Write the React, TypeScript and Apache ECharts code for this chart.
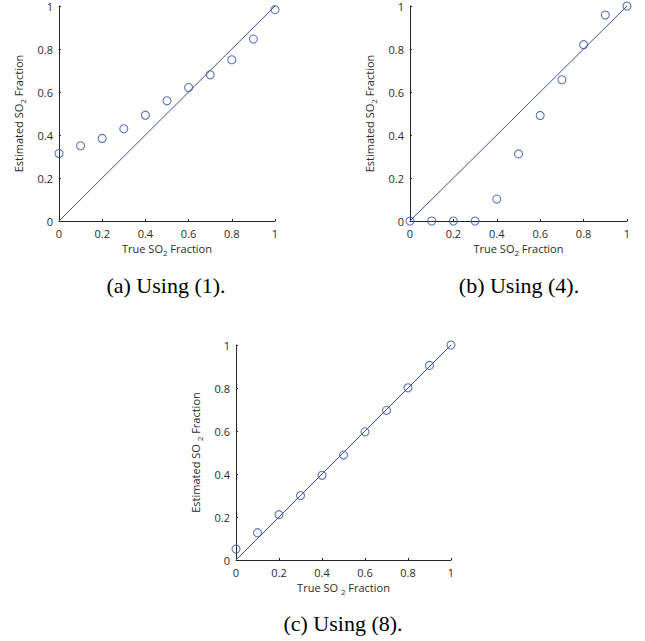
import React, { useEffect, useRef } from "react";
import * as echarts from "echarts";

const trueFraction = [0, 0.1, 0.2, 0.3, 0.4, 0.5, 0.6, 0.7, 0.8, 0.9, 1];
const estimatedA = [0.314, 0.35, 0.384, 0.429, 0.492, 0.559, 0.621, 0.68, 0.75, 0.846, 0.983];
const estimatedB = [0, 0, 0, 0, 0.102, 0.312, 0.491, 0.657, 0.82, 0.958, 1];
const estimatedC = [0.051, 0.127, 0.211, 0.3, 0.394, 0.488, 0.596, 0.696, 0.801, 0.905, 1];
const identityLine = [[0, 0], [1, 1]];
const captions = ["(a) Using (1).", "(b) Using (4).", "(c) Using (8)."];

const BLUE = "#3552a6";
const TEXT = "#2b2b2b";
const AXIS = "#262626";
const SANS = "'Open Sans', 'Noto Sans', sans-serif";

export default function App() {
  const ref = useRef<HTMLDivElement>(null);
  useEffect(() => {
    if (!ref.current) return;
    const chart = echarts.init(ref.current, null, { renderer: "svg" });
    const grids = [
      { left: 59, top: 6, width: 216, height: 215 },
      { left: 410, top: 6, width: 217, height: 215 },
      { left: 236, top: 345, width: 215, height: 215 },
    ];
    const sets = [estimatedA, estimatedB, estimatedC];
    const rich = {
      s: { fontSize: 8, lineHeight: 8, verticalAlign: "bottom", fontFamily: SANS, color: TEXT },
      s2: { fontSize: 8, lineHeight: 8, verticalAlign: "bottom", fontFamily: SANS, color: TEXT },
    };
    const axisCommon = {
      type: "value",
      min: 0,
      max: 1,
      interval: 0.2,
      splitLine: { show: false },
      axisLine: { show: true, lineStyle: { color: AXIS, width: 1 } },
      axisTick: { show: true, inside: true, length: 2, lineStyle: { color: AXIS } },
      axisLabel: { fontSize: 11, fontFamily: SANS, color: TEXT },
      nameLocation: "middle",
    };
    const xAxes = grids.map((_, i) => ({
      ...axisCommon,
      gridIndex: i,
      name: i === 2 ? "True SO {s2|2} Fraction" : "True SO{s|2} Fraction",
      nameGap: 19,
      nameTextStyle: { fontSize: 11, fontFamily: SANS, color: TEXT, lineHeight: 16, rich },
      axisLabel: { ...axisCommon.axisLabel, margin: 7 },
    }));
    const yAxes = grids.map((_, i) => ({
      ...axisCommon,
      gridIndex: i,
      name: i === 2 ? "Estimated SO {s2|2} Fraction" : "Estimated SO{s|2} Fraction",
      nameGap: 33,
      nameTextStyle: { fontSize: 11, fontFamily: SANS, color: TEXT, lineHeight: 16, rich },
      axisLabel: { ...axisCommon.axisLabel, margin: 6 },
    }));
    const series: any[] = [];
    sets.forEach((vals, i) => {
      series.push({
        type: "line",
        xAxisIndex: i,
        yAxisIndex: i,
        data: identityLine,
        showSymbol: false,
        symbol: "none",
        lineStyle: { color: BLUE, width: 1 },
        silent: true,
      });
      series.push({
        type: "scatter",
        xAxisIndex: i,
        yAxisIndex: i,
        data: trueFraction.map((x, j) => [x, vals[j]]),
        symbol: "circle",
        symbolSize: 8,
        itemStyle: { color: "rgba(0,0,0,0)", borderColor: BLUE, borderWidth: 1.1 },
        clip: false,
      });
    });
    const capPos = [
      [166, 285],
      [519, 285],
      [343, 623],
    ];
    chart.setOption({
      animation: false,
      grid: grids,
      xAxis: xAxes,
      yAxis: yAxes,
      series,
      graphic: captions.map((c, i) => ({
        type: "text",
        x: capPos[i][0],
        y: capPos[i][1],
        style: {
          text: c,
          fontFamily: "'Liberation Serif', 'DejaVu Serif', serif",
          fontSize: 22,
          fill: "#000",
          align: "center",
          verticalAlign: "middle",
        },
      })),
    });
    return () => chart.dispose();
  }, []);
  return (
    <div
      ref={ref}
      style={{ position: "fixed", left: 0, top: 0, width: 645, height: 641, background: "#fff" }}
    />
  );
}
